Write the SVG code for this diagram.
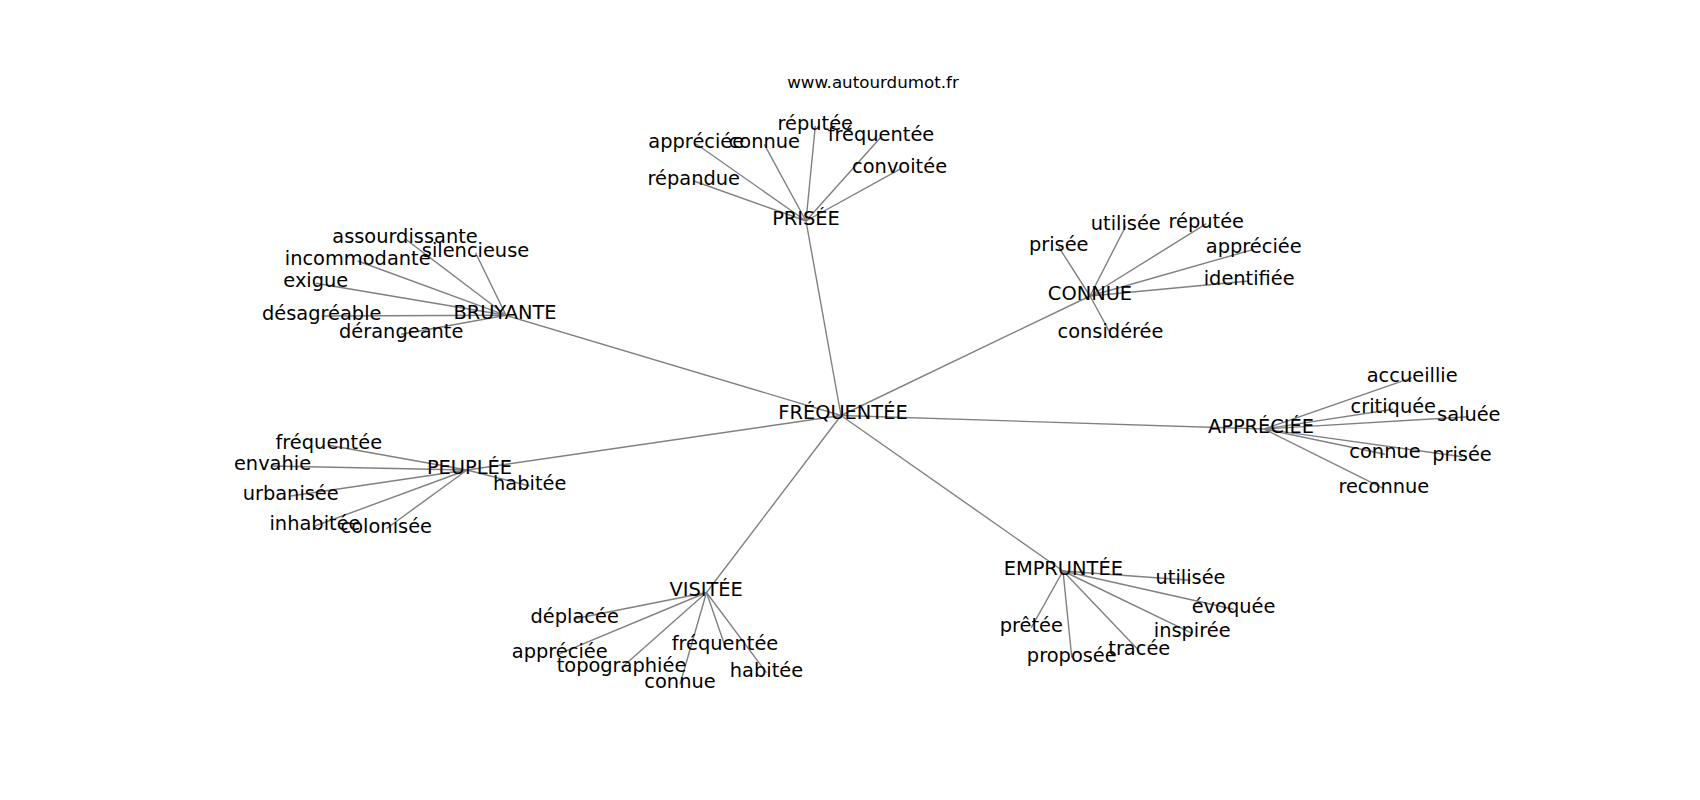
<svg xmlns="http://www.w3.org/2000/svg" width="1700" height="800" viewBox="0 0 1700 800">
<style>
text{font-family:"DejaVu Sans","Liberation Sans",sans-serif;fill:#000;text-anchor:middle}
.lbl{font-size:19.4px}
.title{font-size:16.7px}
#edges line{stroke:#808080;stroke-width:1.4}
</style>
<rect width="1700" height="800" fill="#fff"/>
<text class="title" x="873" y="88">www.autourdumot.fr</text>
<g id="edges">
<line x1="841" y1="415.5" x2="806" y2="221"/>
<line x1="841" y1="415.5" x2="506" y2="315.3"/>
<line x1="841" y1="415.5" x2="1090" y2="296"/>
<line x1="841" y1="415.5" x2="1264" y2="429"/>
<line x1="841" y1="415.5" x2="467" y2="470"/>
<line x1="841" y1="415.5" x2="706.5" y2="592.5"/>
<line x1="841" y1="415.5" x2="1063" y2="571"/>
<line x1="806" y1="221" x2="696.3" y2="144"/>
<line x1="806" y1="221" x2="764.3" y2="144.3"/>
<line x1="806" y1="221" x2="815.3" y2="126"/>
<line x1="806" y1="221" x2="881" y2="137"/>
<line x1="806" y1="221" x2="899.6" y2="169.3"/>
<line x1="806" y1="221" x2="693.8" y2="181"/>
<line x1="506" y1="315.3" x2="405" y2="238.7"/>
<line x1="506" y1="315.3" x2="475.5" y2="252.7"/>
<line x1="506" y1="315.3" x2="357.7" y2="261"/>
<line x1="506" y1="315.3" x2="315.8" y2="283.3"/>
<line x1="506" y1="315.3" x2="321.7" y2="316"/>
<line x1="506" y1="315.3" x2="401.2" y2="334.3"/>
<line x1="1090" y1="296" x2="1125.8" y2="226"/>
<line x1="1090" y1="296" x2="1206.3" y2="223.7"/>
<line x1="1090" y1="296" x2="1058.7" y2="247"/>
<line x1="1090" y1="296" x2="1253.7" y2="249.3"/>
<line x1="1090" y1="296" x2="1249.2" y2="281"/>
<line x1="1090" y1="296" x2="1110.5" y2="333.7"/>
<line x1="1264" y1="429" x2="1412.2" y2="377.7"/>
<line x1="1264" y1="429" x2="1393.3" y2="409.3"/>
<line x1="1264" y1="429" x2="1468.8" y2="416.7"/>
<line x1="1264" y1="429" x2="1385" y2="454.3"/>
<line x1="1264" y1="429" x2="1462" y2="456.7"/>
<line x1="1264" y1="429" x2="1383.8" y2="488.7"/>
<line x1="467" y1="470" x2="328.8" y2="445.3"/>
<line x1="467" y1="470" x2="272.5" y2="466"/>
<line x1="467" y1="470" x2="529.7" y2="486"/>
<line x1="467" y1="470" x2="290.7" y2="496"/>
<line x1="467" y1="470" x2="315" y2="526"/>
<line x1="467" y1="470" x2="386.3" y2="528.7"/>
<line x1="706.5" y1="592.5" x2="574.7" y2="618.7"/>
<line x1="706.5" y1="592.5" x2="725" y2="646"/>
<line x1="706.5" y1="592.5" x2="559.7" y2="653.7"/>
<line x1="706.5" y1="592.5" x2="621.5" y2="667.7"/>
<line x1="706.5" y1="592.5" x2="766.5" y2="672.7"/>
<line x1="706.5" y1="592.5" x2="680" y2="684.3"/>
<line x1="1063" y1="571" x2="1190.5" y2="580.3"/>
<line x1="1063" y1="571" x2="1233.5" y2="609.3"/>
<line x1="1063" y1="571" x2="1031.3" y2="627.7"/>
<line x1="1063" y1="571" x2="1192.2" y2="633.3"/>
<line x1="1063" y1="571" x2="1139.3" y2="651"/>
<line x1="1063" y1="571" x2="1071.8" y2="657.7"/>
</g>
<g id="n-frequentee"><text class="lbl" x="843" y="419.3">FRÉQUENTÉE</text></g>
<g id="n-prisee"><text class="lbl" x="806" y="225">PRISÉE</text></g>
<g id="n-bruyante"><text class="lbl" x="505" y="319.3">BRUYANTE</text></g>
<g id="n-connue"><text class="lbl" x="1090" y="300">CONNUE</text></g>
<g id="n-appreciee"><text class="lbl" x="1261" y="433.3">APPRÉCIÉE</text></g>
<g id="n-peuplee"><text class="lbl" x="469.5" y="474.3">PEUPLÉE</text></g>
<g id="n-visitee"><text class="lbl" x="706.2" y="596">VISITÉE</text></g>
<g id="n-empruntee"><text class="lbl" x="1063.3" y="575">EMPRUNTÉE</text></g>
<g id="n-p-appreciee"><text class="lbl" x="696.3" y="148">appréciée</text></g>
<g id="n-p-connue"><text class="lbl" x="764.3" y="148.3">connue</text></g>
<g id="n-p-reputee"><text class="lbl" x="815.3" y="130">réputée</text></g>
<g id="n-p-frequentee"><text class="lbl" x="881" y="141">fréquentée</text></g>
<g id="n-p-convoitee"><text class="lbl" x="899.6" y="173.3">convoitée</text></g>
<g id="n-p-repandue"><text class="lbl" x="693.8" y="185">répandue</text></g>
<g id="n-b-assourdissante"><text class="lbl" x="405" y="242.7">assourdissante</text></g>
<g id="n-b-silencieuse"><text class="lbl" x="475.5" y="256.7">silencieuse</text></g>
<g id="n-b-incommodante"><text class="lbl" x="357.7" y="265">incommodante</text></g>
<g id="n-b-exigue"><text class="lbl" x="315.8" y="287.3">exigue</text></g>
<g id="n-b-desagreable"><text class="lbl" x="321.7" y="320">désagréable</text></g>
<g id="n-b-derangeante"><text class="lbl" x="401.2" y="338.3">dérangeante</text></g>
<g id="n-c-utilisee"><text class="lbl" x="1125.8" y="230">utilisée</text></g>
<g id="n-c-reputee"><text class="lbl" x="1206.3" y="227.7">réputée</text></g>
<g id="n-c-prisee"><text class="lbl" x="1058.7" y="251">prisée</text></g>
<g id="n-c-appreciee"><text class="lbl" x="1253.7" y="253.3">appréciée</text></g>
<g id="n-c-identifiee"><text class="lbl" x="1249.2" y="285">identifiée</text></g>
<g id="n-c-consideree"><text class="lbl" x="1110.5" y="337.7">considérée</text></g>
<g id="n-a-accueillie"><text class="lbl" x="1412.2" y="381.7">accueillie</text></g>
<g id="n-a-critiquee"><text class="lbl" x="1393.3" y="413.3">critiquée</text></g>
<g id="n-a-saluee"><text class="lbl" x="1468.8" y="420.7">saluée</text></g>
<g id="n-a-connue"><text class="lbl" x="1385" y="458.3">connue</text></g>
<g id="n-a-prisee"><text class="lbl" x="1462" y="460.7">prisée</text></g>
<g id="n-a-reconnue"><text class="lbl" x="1383.8" y="492.7">reconnue</text></g>
<g id="n-pe-frequentee"><text class="lbl" x="328.8" y="449.3">fréquentée</text></g>
<g id="n-pe-envahie"><text class="lbl" x="272.5" y="470">envahie</text></g>
<g id="n-pe-habitee"><text class="lbl" x="529.7" y="490">habitée</text></g>
<g id="n-pe-urbanisee"><text class="lbl" x="290.7" y="500">urbanisée</text></g>
<g id="n-pe-inhabitee"><text class="lbl" x="315" y="530">inhabitée</text></g>
<g id="n-pe-colonisee"><text class="lbl" x="386.3" y="532.7">colonisée</text></g>
<g id="n-v-deplacee"><text class="lbl" x="574.7" y="622.7">déplacée</text></g>
<g id="n-v-frequentee"><text class="lbl" x="725" y="650">fréquentée</text></g>
<g id="n-v-appreciee"><text class="lbl" x="559.7" y="657.7">appréciée</text></g>
<g id="n-v-topographiee"><text class="lbl" x="621.5" y="671.7">topographiée</text></g>
<g id="n-v-habitee"><text class="lbl" x="766.5" y="676.7">habitée</text></g>
<g id="n-v-connue"><text class="lbl" x="680" y="688.3">connue</text></g>
<g id="n-e-utilisee"><text class="lbl" x="1190.5" y="584.3">utilisée</text></g>
<g id="n-e-evoquee"><text class="lbl" x="1233.5" y="613.3">évoquée</text></g>
<g id="n-e-pretee"><text class="lbl" x="1031.3" y="631.7">prêtée</text></g>
<g id="n-e-inspiree"><text class="lbl" x="1192.2" y="637.3">inspirée</text></g>
<g id="n-e-tracee"><text class="lbl" x="1139.3" y="655">tracée</text></g>
<g id="n-e-proposee"><text class="lbl" x="1071.8" y="661.7">proposée</text></g>
</svg>
